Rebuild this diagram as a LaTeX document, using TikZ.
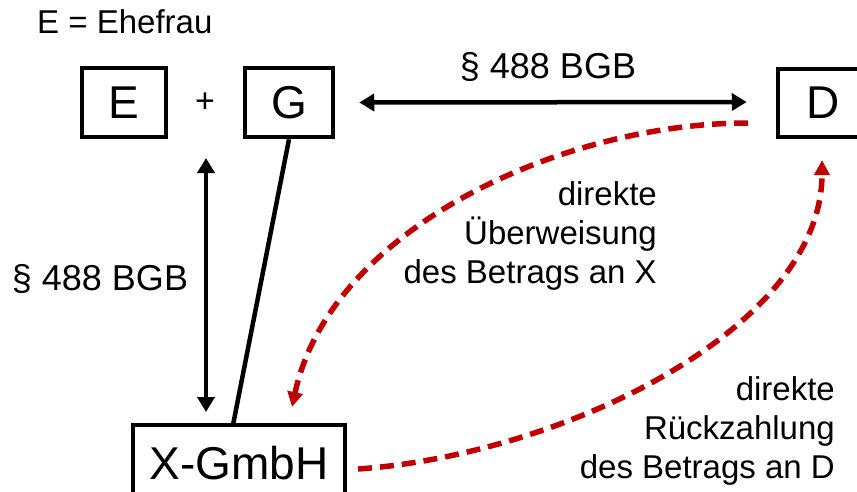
\documentclass[tikz,border=0pt]{standalone}
\usepackage{fontspec}
\setmainfont{Liberation Sans}
\usetikzlibrary{arrows.meta,calc}
\definecolor{darkred}{RGB}{192,0,0}
\begin{document}
\begin{tikzpicture}[x=1pt,y=-1pt,
  boxnode/.style={draw,line width=4.5pt,inner sep=0pt,font=\fontsize{46}{52}\selectfont},
  lbl/.style={inner sep=0pt,font=\fontsize{33}{39}\selectfont},
  blackarrow/.style={line width=4.5pt,{Triangle[length=15pt,width=17pt]}-{Triangle[length=15pt,width=17pt]}},
  redarrow/.style={draw=darkred,line width=5.5pt,dash pattern=on 14pt off 8pt,-{Triangle[length=15pt,width=15pt]}}]
\useasboundingbox (0,0) rectangle (857,491);
\node[boxnode,minimum width=84pt,minimum height=69pt] (E) at (124,102.5) {E};
\node[boxnode,minimum width=88pt,minimum height=69pt] (G) at (289,102.5) {G};
\node[boxnode,minimum width=90pt,minimum height=68pt] (D) at (823,103) {D};
\node[boxnode,minimum width=212pt,minimum height=76pt] (X) at (239,463) {X-GmbH};
\node[lbl,anchor=base west] (legend) at (37,33) {E = Ehefrau};
\node[lbl,font=\fontsize{34}{40}\selectfont] (plus) at (205,103) {+};
\node[lbl,font=\fontsize{36}{40}\selectfont,anchor=base] (top) at (548,78) {§ 488 BGB};
\node[lbl,font=\fontsize{36}{40}\selectfont,anchor=base] (left) at (100,290) {§ 488 BGB};
\node[lbl,align=right,anchor=north east] (l1) at (657,181) {direkte\\Überweisung\\des Betrags an X};
\node[lbl,align=right,anchor=north east] (l2) at (835,376) {direkte\\Rückzahlung\\des Betrags an D};
\coordinate (v1) at (206,158);
\coordinate (v2) at (206,412);
\coordinate (gx) at (233,425);
\coordinate (r1s) at (748,123);
\coordinate (r1e) at (292,407);
\coordinate (r2s) at (358,469);
\coordinate (r2e) at (822,160);
\draw[blackarrow] (G.east) ++(24,0) coordinate (h1) (h1) -- ($(D.west)+(-29,-1)$);
\draw[blackarrow] (v1) -- (v2);
\draw[line width=4.5pt] (G.south) -- (gx);
\draw[redarrow] (r1s) .. controls (560,123) and (330,230) .. (r1e);
\draw[redarrow] (r2s) .. controls (560,455) and (822,330) .. (r2e);
\end{tikzpicture}
\end{document}
